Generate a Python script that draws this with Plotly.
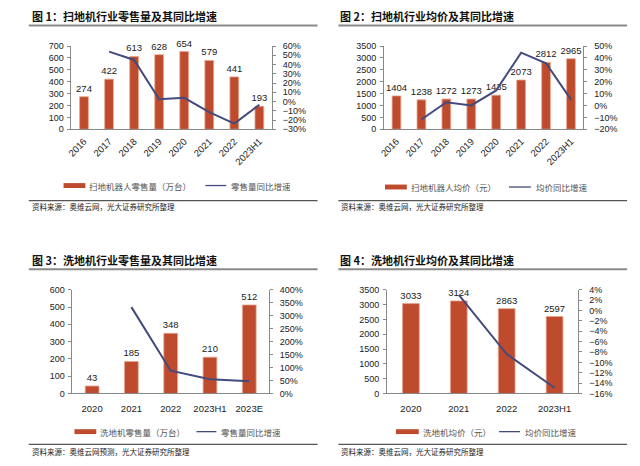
import plotly.graph_objects as go

# ---------------- data ----------------
cats_sweeper = ["2016", "2017", "2018", "2019", "2020", "2021", "2022", "2023H1"]
sweeper_sales = [274, 422, 613, 628, 654, 579, 441, 193]
sweeper_sales_yoy = [None, 0.54, 0.45, 0.024, 0.041, -0.115, -0.238, -0.035]
sweeper_price = [1404, 1238, 1272, 1273, 1435, 2073, 2812, 2965]
sweeper_price_yoy = [None, -0.118, 0.027, 0.001, 0.127, 0.445, 0.356, 0.05]

cats_scrubber_sales = ["2020", "2021", "2022", "2023H1", "2023E"]
scrubber_sales = [43, 185, 348, 210, 512]
scrubber_sales_yoy = [None, 3.33, 0.88, 0.55, 0.47]

cats_scrubber_price = ["2020", "2021", "2022", "2023H1"]
scrubber_price = [3033, 3124, 2863, 2597]
scrubber_price_yoy = [None, 0.03, -0.084, -0.149]

titles = ["图 1：扫地机行业零售量及其同比增速", "图 2：扫地机行业均价及其同比增速",
          "图 3：洗地机行业零售量及其同比增速", "图 4：洗地机行业均价及其同比增速"]
bar_names = ["扫地机器人零售量（万台）", "扫地机器人均价（元）", "洗地机零售量（万台）", "洗地机均价（元）"]
line_names = ["零售量同比增速", "均价同比增速", "零售量同比增速", "均价同比增速"]
sources = ["资料来源：奥维云网，光大证券研究所整理", "资料来源：奥维云网，光大证券研究所整理",
           "资料来源：奥维云网预测，光大证券研究所整理", "资料来源：奥维云网，光大证券研究所整理"]

W, H = 640, 466
BAR = "#BE4B2D"
BAR_EDGE = "#E8A48E"
LINE = "#434A7C"
NUM_FONT = "Liberation Sans, Arial, sans-serif"
CJK = "Noto Sans CJK SC, sans-serif"

def px(x):
    return x / W

def py(y):
    return 1 - y / H

panels = [
    dict(cats=cats_sweeper, bars=sweeper_sales, yoy=sweeper_sales_yoy,
         xd=(67, 269), yd=(42, 127), left=(0, 700, 100), right=(-0.30, 0.60, 0.10),
         rot=True, title_x=25, title_y=11.5, ul=(24, 315, 21),
         src_line=200, src_y=206, leg_y=184.5,
         leg=(59, 81, 83, 202, 223, 226)),
    dict(cats=cats_sweeper, bars=sweeper_price, yoy=sweeper_price_yoy,
         xd=(382, 583), yd=(42, 127), left=(0, 3500, 500), right=(-0.20, 0.50, 0.10),
         rot=True, title_x=336, title_y=11.5, ul=(336, 627, 21),
         src_line=200, src_y=206, leg_y=186,
         leg=(383, 405, 407, 508, 530, 533)),
    dict(cats=cats_scrubber_sales, bars=scrubber_sales, yoy=scrubber_sales_yoy,
         xd=(68, 266), yd=(291, 397), left=(0, 600, 100), right=(0, 4.0, 0.5),
         rot=False, title_x=25, title_y=261, ul=(24, 315, 270),
         src_line=449, src_y=456, leg_y=436,
         leg=(70, 92, 94, 193, 213, 216)),
    dict(cats=cats_scrubber_price, bars=scrubber_price, yoy=scrubber_price_yoy,
         xd=(385, 578), yd=(291, 397), left=(0, 3500, 500), right=(-0.16, 0.04, 0.02),
         rot=False, title_x=336, title_y=261, ul=(336, 627, 270),
         src_line=449, src_y=456, leg_y=436,
         leg=(394, 417, 419, 498, 519, 522)),
]

fig = go.Figure()
layout = dict(width=W, height=H, margin=dict(l=0, r=0, t=0, b=0),
              paper_bgcolor="white", plot_bgcolor="rgba(0,0,0,0)",
              showlegend=False, bargap=0.65,
              font=dict(family=NUM_FONT, size=9, color="#222"))
shapes = []
annotations = []
TF = 9

for i, p in enumerate(panels):
    n = i + 1
    xa = "x" if n == 1 else f"x{n}"
    yl = f"y{2*n-1}" if n > 1 else "y"
    yr = f"y{2*n}"
    fig.add_trace(go.Bar(x=p["cats"], y=p["bars"], xaxis=xa, yaxis=yl,
                         marker=dict(color=BAR, line=dict(color=BAR_EDGE, width=0.8)),
                         text=[str(v) for v in p["bars"]], textposition="outside",
                         constraintext="none",
                         textfont=dict(size=9.5, color="#222", family=NUM_FONT),
                         cliponaxis=False, name=bar_names[i]))
    fig.add_trace(go.Scatter(x=p["cats"], y=p["yoy"], xaxis=xa, yaxis=yr, mode="lines",
                             line=dict(color=LINE, width=2), cliponaxis=False,
                             name=line_names[i]))
    xkey = "xaxis" if n == 1 else f"xaxis{n}"
    ylkey = "yaxis" if n == 1 else f"yaxis{2*n-1}"
    yrkey = f"yaxis{2*n}"
    layout[xkey] = dict(domain=[px(p["xd"][0]), px(p["xd"][1])], anchor=yl,
                        showline=True, linecolor="#888", linewidth=1, ticks="",
                        tickangle=-45 if p["rot"] else 0, showgrid=False,
                        ticklabelstandoff=2 if p["rot"] else 6,
                        tickfont=dict(size=TF + 0.5, color="#222"), type="category")
    lo, hi, st = p["left"]
    layout[ylkey] = dict(domain=[py(p["yd"][1]), py(p["yd"][0])], anchor=xa,
                         range=[lo, hi], dtick=st, tick0=0, showline=True, linecolor="#888",
                         linewidth=1, ticks="outside", ticklen=3, tickcolor="#888",
                         ticklabelstandoff=2,
                         showgrid=False, zeroline=False, tickfont=dict(size=TF, color="#222"))
    rlo, rhi, rst = p["right"]
    layout[yrkey] = dict(overlaying=yl, anchor=xa, side="right", range=[rlo, rhi],
                         dtick=rst, tick0=0, tickformat=".0%", showline=True,
                         linecolor="#888", linewidth=1, ticks="outside", ticklen=3,
                         tickcolor="#888", showgrid=False, zeroline=False,
                         ticklabelstandoff=5,
                         tickfont=dict(size=TF, color="#222"))
    # title
    annotations.append(dict(text=f"<b>{titles[i]}</b>", x=px(p["title_x"]), y=py(p["title_y"]),
                            xref="paper", yref="paper", xanchor="left", yanchor="middle",
                            showarrow=False, font=dict(family=CJK, size=11, color="#111")))
    u0, u1, uy = p["ul"]
    shapes.append(dict(type="line", xref="paper", yref="paper", x0=px(u0), x1=px(u1),
                       y0=py(uy), y1=py(uy), line=dict(color="#8a8a8a", width=2)))
    shapes.append(dict(type="line", xref="paper", yref="paper", x0=px(u0), x1=px(u1),
                       y0=py(p["src_line"]), y1=py(p["src_line"]),
                       line=dict(color="#555", width=1.3)))
    annotations.append(dict(text=sources[i], x=px(u0 + 1), y=py(p["src_y"]),
                            xref="paper", yref="paper", xanchor="left", yanchor="middle",
                            showarrow=False, font=dict(family=CJK, size=7.5, color="#222")))
    # legend
    r0, r1, t1, l0, l1, t2 = p["leg"]
    ly = p["leg_y"]
    shapes.append(dict(type="rect", xref="paper", yref="paper", x0=px(r0), x1=px(r1),
                       y0=py(ly + 2.5), y1=py(ly - 2.5), fillcolor=BAR, line=dict(width=0)))
    shapes.append(dict(type="line", xref="paper", yref="paper", x0=px(l0), x1=px(l1),
                       y0=py(ly), y1=py(ly), line=dict(color=LINE, width=1.3)))
    annotations.append(dict(text=bar_names[i], x=px(t1), y=py(ly), xref="paper", yref="paper",
                            xanchor="left", yanchor="middle", showarrow=False,
                            font=dict(family=CJK, size=8.5, color="#555")))
    annotations.append(dict(text=line_names[i], x=px(t2), y=py(ly), xref="paper", yref="paper",
                            xanchor="left", yanchor="middle", showarrow=False,
                            font=dict(family=CJK, size=8.5, color="#555")))

layout["shapes"] = shapes
layout["annotations"] = annotations
fig.update_layout(**layout)
fig.write_html("out.html", config={"displayModeBar": False},
               post_script="document.body.style.margin='0';document.body.style.padding='0';")
